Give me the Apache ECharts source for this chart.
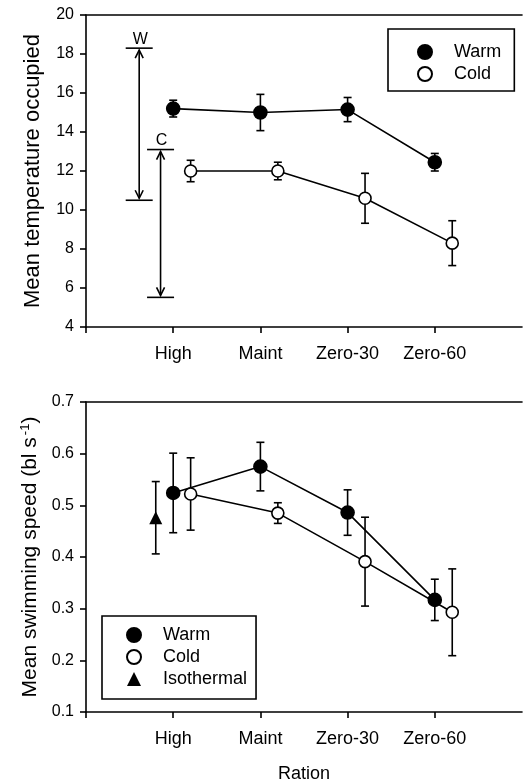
<!DOCTYPE html>
<html>
<head>
<meta charset="utf-8">
<script src="https://cdn.jsdelivr.net/npm/echarts@6/dist/echarts.min.js"></script>
<style>
  html, body { margin: 0; padding: 0; background: #fff; }
  #chart { width: 525px; height: 784px; }
</style>
</head>
<body>
<div id="chart"></div>
<script>
// Ration treatments along the x axis
const categories = ['High', 'Maint', 'Zero-30', 'Zero-60'];

// Panel A: mean temperature occupied (± SE)
const warmTemp = [15.2, 15.0, 15.15, 12.45];
const warmTempSE = [0.43, 0.93, 0.62, 0.45];
const coldTemp = [12.0, 12.0, 10.6, 8.3];
const coldTempSE = [0.55, 0.45, 1.28, 1.15];

// Temperature ranges available in the warm (W) and cold (C) tanks
const rangeLabels = ['W', 'C'];
const rangeLow = [10.5, 5.52];
const rangeHigh = [18.3, 13.1];

// Panel B: mean swimming speed (bl s^-1, ± SE)
const warmSpeed = [0.524, 0.575, 0.486, 0.317];
const warmSpeedSE = [0.077, 0.047, 0.044, 0.040];
const coldSpeed = [0.522, 0.485, 0.391, 0.293];
const coldSpeedSE = [0.070, 0.020, 0.086, 0.084];
const isoSpeed = [0.476];
const isoSpeedSE = [0.070];

// Axis tick values
const tempTicks = [4, 6, 8, 10, 12, 14, 16, 18, 20];
const speedTicks = [0.1, 0.2, 0.3, 0.4, 0.5, 0.6, 0.7];

// Horizontal placement of each group on the ration axis
const COLD_SHIFT = 0.2;
const ISO_SHIFT = -0.2;
const RANGE_X = [0.61, 0.855];

const FONT = "'Liberation Sans', Arial, Helvetica, sans-serif";
const BLACK = '#000';

const points = (vals, shift) => vals.map((v, i) => [i + 1 + shift, v]);
const bars = (vals, se, shift) => vals.map((v, i) => [i + 1 + shift, v - se[i], v + se[i]]);

function renderErrorBar(params, api) {
  const x = api.value(0);
  const lo = api.coord([x, api.value(1)]);
  const hi = api.coord([x, api.value(2)]);
  const cap = 4;
  const style = { stroke: BLACK, lineWidth: 1.6, fill: null };
  return {
    type: 'group',
    children: [
      { type: 'line', shape: { x1: lo[0], y1: lo[1], x2: hi[0], y2: hi[1] }, style },
      { type: 'line', shape: { x1: lo[0] - cap, y1: lo[1], x2: lo[0] + cap, y2: lo[1] }, style },
      { type: 'line', shape: { x1: hi[0] - cap, y1: hi[1], x2: hi[0] + cap, y2: hi[1] }, style }
    ]
  };
}

function renderRange(params, api) {
  const x = api.value(0);
  const top = api.coord([x, api.value(2)]);
  const bot = api.coord([x, api.value(1)]);
  const half = 13.5, ah = 8, aw = 4, inset = 2;
  const style = { stroke: BLACK, lineWidth: 1.6, fill: null };
  const cx = top[0];
  return {
    type: 'group',
    children: [
      { type: 'line', shape: { x1: cx - half, y1: top[1], x2: cx + half, y2: top[1] }, style },
      { type: 'line', shape: { x1: cx - half, y1: bot[1], x2: cx + half, y2: bot[1] }, style },
      { type: 'line', shape: { x1: cx, y1: top[1] + inset, x2: cx, y2: bot[1] - inset }, style },
      { type: 'polyline', shape: { points: [[cx - aw, top[1] + inset + ah], [cx, top[1] + inset], [cx + aw, top[1] + inset + ah]] }, style },
      { type: 'polyline', shape: { points: [[cx - aw, bot[1] - inset - ah], [cx, bot[1] - inset], [cx + aw, bot[1] - inset - ah]] }, style },
      {
        type: 'text',
        style: {
          text: rangeLabels[params.dataIndex], x: cx + 1, y: top[1] - 1,
          align: 'center', verticalAlign: 'bottom',
          fontSize: 16, fontFamily: FONT, fill: BLACK
        }
      }
    ]
  };
}

const catLabel = v => (v >= 1 && v <= categories.length && Math.abs(v - Math.round(v)) < 1e-6) ? categories[Math.round(v) - 1] : '';

function bottomAxis(gridIndex, withName) {
  return {
    type: 'value', gridIndex, position: 'bottom', min: 0, max: 5, interval: 1,
    axisLine: { show: true, onZero: false, lineStyle: { color: BLACK, width: 1.6 } },
    axisTick: { show: true, length: 6, customValues: [0, 1, 2, 3, 4], lineStyle: { color: BLACK, width: 1.6 } },
    axisLabel: { formatter: catLabel, fontSize: 18, fontFamily: FONT, color: BLACK, margin: 18 },
    splitLine: { show: false },
    name: withName ? 'Ration' : '',
    nameLocation: 'middle', nameGap: 53,
    nameTextStyle: { fontSize: 18, fontFamily: FONT, color: BLACK }
  };
}

function topBorder(gridIndex) {
  return {
    type: 'value', gridIndex, position: 'top', min: 0, max: 5,
    axisLine: { show: true, onZero: false, lineStyle: { color: BLACK, width: 1.6 } },
    axisTick: { show: false }, axisLabel: { show: false }, splitLine: { show: false }
  };
}

function leftAxis(gridIndex, ticks, name, digits, nameSize, rich) {
  return {
    type: 'value', gridIndex,
    min: ticks[0], max: ticks[ticks.length - 1], interval: ticks[1] - ticks[0],
    axisLine: { show: true, onZero: false, lineStyle: { color: BLACK, width: 1.6 } },
    axisTick: { show: true, length: 6, lineStyle: { color: BLACK, width: 1.6 } },
    axisLabel: { formatter: v => v.toFixed(digits), fontSize: 16, fontFamily: FONT, color: BLACK, margin: 12 },
    splitLine: { show: false },
    name, nameLocation: 'middle', nameGap: 42,
    nameTextStyle: { fontSize: nameSize, fontFamily: FONT, color: BLACK, rich }
  };
}

const warmStyle = { color: BLACK, borderColor: BLACK, borderWidth: 1.6 };
const coldStyle = { color: '#fff', borderColor: BLACK, borderWidth: 1.6 };
const lineStyle = { color: BLACK, width: 1.6 };

const legendBase = {
  orient: 'vertical', itemWidth: 14, itemHeight: 14, itemGap: 4,
  borderColor: BLACK, borderWidth: 1.6, backgroundColor: '#fff',
  selectedMode: false,
  textStyle: { fontSize: 18, fontFamily: FONT, color: BLACK, lineHeight: 18, padding: [0, 0, 0, 17] }
};

const option = {
  animation: false,
  backgroundColor: '#fff',
  grid: [
    { left: 86, top: 15, width: 440, height: 312 },
    { left: 86, top: 402, width: 440, height: 311 }
  ],
  xAxis: [bottomAxis(0, false), bottomAxis(1, true), topBorder(0), topBorder(1)],
  yAxis: [
    leftAxis(0, tempTicks, 'Mean temperature occupied', 0, 22),
    leftAxis(1, speedTicks, 'Mean swimming speed (bl s{sup|-1})', 1, 21,
      { sup: { fontSize: 13, fontFamily: FONT, color: BLACK, verticalAlign: 'top', padding: [0, 0, 10, 2] } })
  ],
  legend: [
    Object.assign({}, legendBase, {
      left: 388, top: 29, padding: [14, 13, 8, 29],
      data: [{ name: 'Warm', icon: 'circle' }, { name: 'Cold', icon: 'circle' }]
    }),
    Object.assign({}, legendBase, {
      left: 102, top: 616, padding: [10, 9, 11, 24],
      data: [{ name: 'Warm', icon: 'circle' }, { name: 'Cold', icon: 'circle' }, { name: 'Isothermal', icon: 'triangle' }]
    })
  ],
  series: [
    // Panel A
    { type: 'custom', name: 'rangeBars', xAxisIndex: 0, yAxisIndex: 0, renderItem: renderRange,
      data: rangeLabels.map((_, i) => [RANGE_X[i], rangeLow[i], rangeHigh[i]]), z: 1, silent: true },
    { type: 'custom', name: 'warmTempSE', xAxisIndex: 0, yAxisIndex: 0, renderItem: renderErrorBar,
      data: bars(warmTemp, warmTempSE, 0), z: 1, silent: true },
    { type: 'custom', name: 'coldTempSE', xAxisIndex: 0, yAxisIndex: 0, renderItem: renderErrorBar,
      data: bars(coldTemp, coldTempSE, COLD_SHIFT), z: 1, silent: true },
    { type: 'line', name: 'Warm', xAxisIndex: 0, yAxisIndex: 0, data: points(warmTemp, 0),
      symbol: 'circle', symbolSize: 13, itemStyle: warmStyle, lineStyle, z: 3 },
    { type: 'line', name: 'Cold', xAxisIndex: 0, yAxisIndex: 0, data: points(coldTemp, COLD_SHIFT),
      symbol: 'circle', symbolSize: 12, itemStyle: coldStyle, lineStyle, z: 3 },
    // Panel B
    { type: 'custom', name: 'warmSpeedSE', xAxisIndex: 1, yAxisIndex: 1, renderItem: renderErrorBar,
      data: bars(warmSpeed, warmSpeedSE, 0), z: 1, silent: true },
    { type: 'custom', name: 'coldSpeedSE', xAxisIndex: 1, yAxisIndex: 1, renderItem: renderErrorBar,
      data: bars(coldSpeed, coldSpeedSE, COLD_SHIFT), z: 1, silent: true },
    { type: 'custom', name: 'isoSpeedSE', xAxisIndex: 1, yAxisIndex: 1, renderItem: renderErrorBar,
      data: bars(isoSpeed, isoSpeedSE, ISO_SHIFT), z: 1, silent: true },
    { type: 'line', name: 'Warm', xAxisIndex: 1, yAxisIndex: 1, data: points(warmSpeed, 0),
      symbol: 'circle', symbolSize: 13, itemStyle: warmStyle, lineStyle, z: 3 },
    { type: 'line', name: 'Cold', xAxisIndex: 1, yAxisIndex: 1, data: points(coldSpeed, COLD_SHIFT),
      symbol: 'circle', symbolSize: 12, itemStyle: coldStyle, lineStyle, z: 3 },
    { type: 'scatter', name: 'Isothermal', xAxisIndex: 1, yAxisIndex: 1, data: points(isoSpeed, ISO_SHIFT),
      symbol: 'triangle', symbolSize: 13, itemStyle: { color: BLACK, opacity: 1 }, z: 3 }
  ]
};

const chart = echarts.init(document.getElementById('chart'), null, { renderer: 'canvas' });
chart.setOption(option);
</script>
</body>
</html>
